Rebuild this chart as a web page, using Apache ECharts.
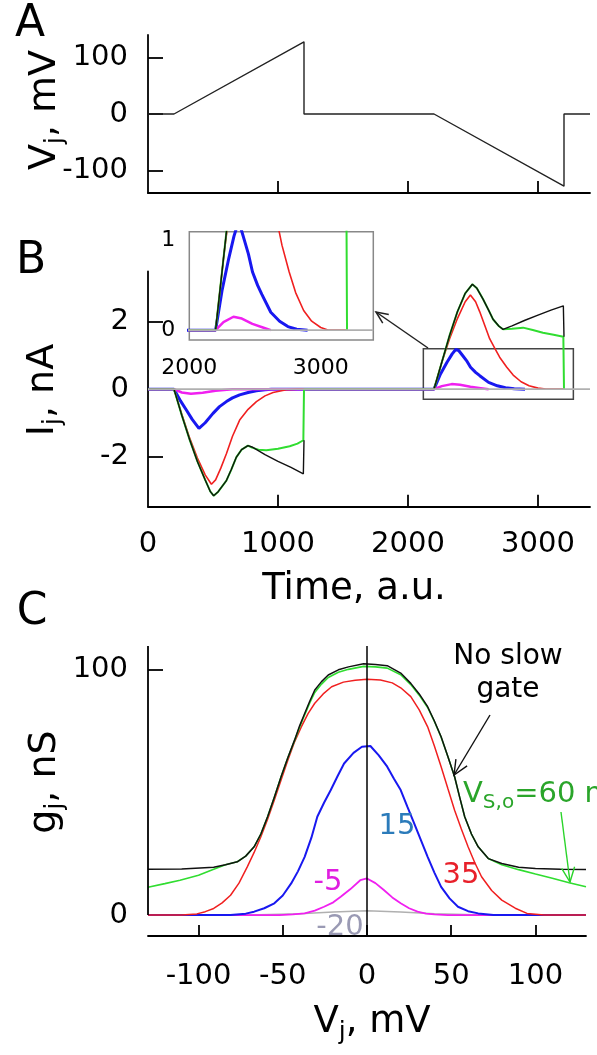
<!DOCTYPE html>
<html>
<head>
<meta charset="utf-8">
<script src="https://cdn.jsdelivr.net/npm/echarts@6.0.0/dist/echarts.min.js"></script>
<style>
html, body { margin: 0; padding: 0; background: #fff; }
#chart { width: 597px; height: 1055px; }
</style>
</head>
<body>
<div id="chart"></div>
<script>
// ---- panel A : Vj protocol (time, mV)
var timeA = [0, 200, 1200, 1200, 2200, 3200, 3200, 3400];
var vjA = [0, 0, 128, 0, 0, -128, 0, 0];

// ---- panel B : Ij traces [time, nA]
var ijBlack = [[0,0],[200,0],[260,-0.78],[320,-1.5],[380,-2.15],[440,-2.7],[480,-3.05],[505,-3.17],[540,-3.05],[603,-2.72],[640,-2.4],[680,-2.02],[720,-1.8],[769,-1.68],[800,-1.72],[900,-1.95],[1000,-2.15],[1100,-2.33],[1195,-2.52],[1200,-1.52],[1200,'-'],
	[2200,0],[2260,0.8],[2320,1.6],[2380,2.3],[2440,2.85],[2495,3.12],[2530,3.0],[2577,2.68],[2620,2.35],[2654,2.08],[2700,1.87],[2731,1.78],[2800,1.88],[2900,2.05],[3000,2.2],[3100,2.35],[3195,2.48],[3200,1.56]];
var ijGreen = [[0,0],[200,0],[260,-0.78],[320,-1.5],[380,-2.15],[440,-2.7],[480,-3.05],[505,-3.17],[540,-3.05],[603,-2.72],[640,-2.4],[680,-2.02],[720,-1.8],[769,-1.68],[800,-1.74],[850,-1.8],[910,-1.82],[1000,-1.77],[1090,-1.7],[1150,-1.62],[1195,-1.52],[1200,0],
	[2200,0],[2260,0.8],[2320,1.6],[2380,2.3],[2440,2.85],[2495,3.12],[2530,3.0],[2577,2.68],[2620,2.35],[2654,2.08],[2700,1.87],[2731,1.78],[2800,1.8],[2885,1.83],[2960,1.76],[3038,1.68],[3120,1.62],[3195,1.56],[3200,0]];
var ijRed = [[0,0],[200,0],[260,-0.75],[320,-1.45],[380,-2.05],[440,-2.55],[488,-2.83],[520,-2.7],[560,-2.35],[603,-1.92],[650,-1.4],[705,-0.92],[770,-0.6],[834,-0.37],[900,-0.2],[962,-0.1],[1064,-0.02],[1150,0],
	[2200,0],[2260,0.8],[2320,1.5],[2380,2.1],[2440,2.6],[2480,2.8],[2520,2.6],[2552,2.3],[2590,1.9],[2628,1.5],[2670,1.2],[2705,0.95],[2760,0.65],[2809,0.42],[2870,0.22],[2931,0.1],[3000,0.03],[3060,0],[3200,0]];
var ijBlue = [[0,0],[200,0],[250,-0.35],[295,-0.62],[340,-0.9],[392,-1.17],[440,-1.0],[500,-0.72],[550,-0.52],[603,-0.37],[650,-0.26],[705,-0.17],[770,-0.1],[834,-0.05],[900,-0.02],[950,0],
	[2200,0],[2250,0.45],[2300,0.8],[2340,1.05],[2367,1.18],[2390,1.15],[2420,1.0],[2450,0.85],[2481,0.65],[2520,0.5],[2552,0.4],[2620,0.2],[2687,0.1],[2750,0.04],[2817,0.01],[2900,0]];
var ijMagenta = [[0,0],[200,0],[260,-0.1],[330,-0.14],[420,-0.11],[520,-0.05],[650,0],
	[2200,0],[2260,0.09],[2336,0.15],[2400,0.13],[2480,0.07],[2560,0.03],[2620,0]];
var ijGray = [[0,0],[3400,0]];
// zoomed region shown in the inset
var zoomBox = [[2118, 1.2], [3272, -0.3]];

// ---- panel C : gj-Vj curves [mV, nS]
var gjBlack = [[-130,18.7],[-110,18.8],[-91,19.5],[-84,20.5],[-77,21.7],[-72,24],[-67,27.8],[-63,33],[-59,40],[-55,48],[-51,56.3],[-47,64],[-43,71.2],[-40,77],[-37,82],[-34,87],[-31,91.6],[-27,95],[-23,97.7],[-17,99.8],[-11,101],[-2,102.3],[5,102],[12,101.5],[20,98.5],[26,94.3],[31,90],[36,84.8],[40,79],[44,72.6],[48,64.5],[52,56.3],[55,48],[58,40],[62,33],[66,27.8],[72,23],[80,21],[90,19.5],[100,19],[115,18.7],[130,18.6]];
var gjGreen = [[-130,11.3],[-120,12.8],[-111,14.2],[-100,16.2],[-91,18.7],[-84,20.5],[-77,21.7],[-72,24],[-67,27.8],[-63,33],[-59,40],[-55,48],[-51,56.3],[-47,64],[-43,71],[-40,76.5],[-37,81.5],[-34,86.3],[-31,90.6],[-27,94],[-23,96.7],[-17,98.8],[-11,100],[-2,101.2],[5,101],[12,100.5],[20,97.8],[26,93.8],[31,89.5],[36,84.5],[40,78.8],[44,72.4],[48,64.5],[52,56.3],[55,48],[58,40],[62,33],[66,27.8],[72,23],[80,20.5],[90,18.5],[100,16.7],[110,15],[120,13.2],[130,11.5]];
var gjRed = [[-130,0],[-110,0],[-101,0.5],[-96,1.4],[-91,2.7],[-86,5],[-81,8.1],[-76,13],[-71,19.7],[-67,25.5],[-63,31.9],[-59,39],[-55,46.8],[-51,55],[-47,63],[-43,70.5],[-39,76.6],[-35,82],[-31,86.2],[-26,90],[-21,92.9],[-14,94.8],[-7,95.6],[0,96],[8,95.7],[15,94.5],[20,92.5],[26,88.9],[31,83.5],[36,76.6],[40,68.8],[44,60.4],[48,51.5],[52,42.7],[56,35],[60,27.8],[64,21.3],[68,15.6],[74,10],[80,6.1],[88,2.8],[95,0.7],[105,0],[130,0]];
var gjBlue = [[-130,0],[-81,0],[-72,0.6],[-67,1.4],[-61,2.8],[-55,4.8],[-50,8],[-45,12.9],[-41,17.8],[-37,23.7],[-33,31.5],[-29.5,40],[-25.5,45.7],[-21.5,50.9],[-17.5,56.5],[-13.6,61.7],[-8,66],[-3,68.5],[2,68.8],[7,65],[12,60.4],[16,55.5],[20,50.9],[24,44],[28,37.3],[32,30.5],[36,23.7],[40,17.3],[44,11.5],[49,6.8],[54,3.4],[60,1.6],[66,0.7],[75,0],[130,0]];
var gjMagenta = [[-130,0],[-52,0],[-44,0.3],[-37,0.7],[-31,1.8],[-25.5,3.4],[-20,5.2],[-15.6,7.5],[-10,10.5],[-4,14.2],[0,14.9],[5,13],[10,10.2],[15,7.2],[20,4.8],[25,2.8],[30,1.4],[35,0.6],[40,0.3],[48,0],[130,0]];
var gjGray = [[-130,0],[-70,0],[-40,0.6],[-20,1.3],[0,1.8],[20,1.3],[40,0.6],[70,0],[130,0]];
var gjAxisLine = [[-130,0],[-130,109.5]];

// ---- ticks and labels
var timeTicks = [1000, 2000, 3000];
var timeLabels = [0, 1000, 2000, 3000];
var vjTicks = [-100, 0, 100];
var ijTicks = [-2, 0, 2];
var insetXTicks = [3000];
var insetXLabels = [2000, 3000];
var insetYTicks = [0, 1];
var vTicks = [-100, -50, 0, 50, 100];
var gTicks = [0, 100];

var FONT = 'DejaVu Sans';
var C_GREEN = '#30dd30', C_RED = '#f02020', C_BLUE = '#1818f0', C_MAG = '#f020f0', C_GRAY = '#b0b0b0', C_BLACK = '#111';

function valueAxis(o) {
	return {
		type: 'value',
		gridIndex: o.grid,
		min: o.min,
		max: o.max,
		axisLine: { show: o.line !== false, onZero: false, lineStyle: { color: '#000', width: 1.8 } },
		axisTick: { show: true, inside: true, length: o.tickLen || 12, customValues: o.ticks, lineStyle: { color: o.tickColor || '#000', width: 1.8 } },
		axisLabel: {
			show: !!o.labels,
			customValues: o.labels || [],
			margin: o.margin || 18,
			fontSize: o.fontSize || 29,
			fontFamily: FONT,
			color: '#000',
			formatter: function (v) { return String(v); }
		},
		splitLine: { show: false }
	};
}

function line(data, color, width, idx, z) {
	return {
		type: 'line',
		data: data,
		xAxisIndex: idx,
		yAxisIndex: idx,
		symbol: 'none',
		silent: true,
		z: z || 2,
		lineStyle: { color: color, width: width },
		itemStyle: { color: color }
	};
}

function arrow(x1, y1, x2, y2, color, head, width) {
	var a = Math.atan2(y2 - y1, x2 - x1), s = 0.42;
	var p1 = [x2 - head * Math.cos(a - s), y2 - head * Math.sin(a - s)];
	var p2 = [x2 - head * Math.cos(a + s), y2 - head * Math.sin(a + s)];
	return [
		{ type: 'line', z: 100, shape: { x1: x1, y1: y1, x2: x2, y2: y2 }, style: { stroke: color, lineWidth: width } },
		{ type: 'polyline', z: 100, shape: { points: [p1, [x2, y2], p2] }, style: { stroke: color, lineWidth: width, fill: null } }
	];
}

function label(x, y, text, size, color, align, rot) {
	return {
		type: 'text', z: 100, x: x, y: y, rotation: rot || 0,
		style: { text: text, fontSize: size, fontFamily: FONT, fill: color, align: align || 'center', verticalAlign: 'middle' }
	};
}

// text with a subscript, e.g. V_j, mV
function subLabel(x, y, main, sub, rest, size, subSize, color, align, rot) {
	return {
		type: 'text', z: 100, x: x, y: y, rotation: rot || 0,
		style: {
			text: '{m|' + main + '}{s|' + sub + '}{m|' + rest + '}',
			align: align || 'center',
			verticalAlign: 'middle',
			fill: color,
			rich: {
				m: { fontSize: size, fontFamily: FONT, fill: color, lineHeight: size + 8 },
				s: { fontSize: subSize, fontFamily: FONT, fill: color, lineHeight: 14, verticalAlign: 'bottom' }
			}
		}
	};
}

var series = [];

// A
series.push(line(timeA.map(function (t, i) { return [t, vjA[i]]; }), '#222', 1.4, 0));

// B main (1) and inset (2)
[1, 2].forEach(function (k) {
	series.push(line(ijBlue, C_BLUE, 3, k));
	series.push(line(ijMagenta, C_MAG, 2.5, k));
	series.push(line(ijRed, C_RED, 1.6, k));
	series.push(line(ijGreen, C_GREEN, 2, k));
	series.push(line(ijBlack, C_BLACK, 1.4, k));
	series.push(line(ijGray, C_GRAY, 1.8, k));
});

// zoom rectangle on the main B panel
series[series.length - 7].markArea = {
	silent: true,
	itemStyle: { color: 'rgba(0,0,0,0)', borderColor: '#444', borderWidth: 1.5 },
	data: [[{ coord: zoomBox[0] }, { coord: zoomBox[1] }]]
};

// C
series.push(line(gjGray, C_GRAY, 1.5, 3));
series.push(line(gjMagenta, C_MAG, 1.8, 3));
series.push(line(gjBlue, C_BLUE, 2, 3));
series.push(line(gjRed, C_RED, 1.5, 3));
series.push(line(gjGreen, C_GREEN, 1.6, 3));
series.push(line(gjBlack, C_BLACK, 1.5, 3));

var axisSerie = line(gjAxisLine, '#000', 1.8, 3, 5);
axisSerie.clip = false;
axisSerie.markLine = {
	silent: true,
	symbol: 'none',
	label: { show: false },
	lineStyle: { color: '#000', width: 1.5, type: 'solid' },
	data: [{ xAxis: 0 }]
};
series.push(axisSerie);

var graphics = [
	label(30, 25, 'A', 44, '#000'),
	label(31, 262, 'B', 44, '#000'),
	label(32, 613, 'C', 44, '#000'),
	subLabel(45, 110, 'V', 'j', ', mV', 38, 25, '#000', 'center', Math.PI / 2),
	subLabel(43, 390, 'I', 'j', ', nA', 38, 25, '#000', 'center', Math.PI / 2),
	subLabel(45, 782, 'g', 'j', ', nS', 38, 25, '#000', 'center', Math.PI / 2),
	label(354, 589, 'Time, a.u.', 37, '#000'),
	subLabel(372, 1022, 'V', 'j', ', mV', 37, 25, '#000'),
	{
		type: 'text', z: 100, x: 508, y: 673,
		style: { text: 'No slow\ngate', fontSize: 28, fontFamily: FONT, fill: '#000', align: 'center', verticalAlign: 'middle', lineHeight: 33 }
	},
	subLabel(463, 794, 'V', 'S,o', '=60 mV', 29, 20, '#2aa52a', 'left'),
	label(397, 826, '15', 29, '#2b7bba'),
	label(461, 875, '35', 29, '#e8202a'),
	label(328, 882, '-5', 29, '#e01ee0'),
	label(340, 927, '-20', 29, '#9a9ab4')
];
graphics = graphics.concat(arrow(428, 348, 376, 312, '#222', 13, 1.5));
graphics = graphics.concat(arrow(490, 715, 454, 775, '#111', 16, 1.4));
graphics = graphics.concat(arrow(561, 812, 570, 882, '#2ad42a', 16, 1.4));

var option = {
	animation: false,
	backgroundColor: '#fff',
	textStyle: { fontFamily: FONT },
	grid: [
		{ left: 148, top: 35, width: 442, height: 158, containLabel: false, outerBoundsMode: 'none' },
		{ left: 148, top: 271.5, width: 442, height: 235.3, containLabel: false, outerBoundsMode: 'none' },
		{ left: 189.3, top: 231.7, width: 184, height: 108.3, containLabel: false, outerBoundsMode: 'none', show: true, borderColor: '#888', borderWidth: 1.5, backgroundColor: '#fff', z: 1 },
		{ left: 148, top: 646, width: 438, height: 290, containLabel: false, outerBoundsMode: 'none' }
	],
	xAxis: [
		valueAxis({ grid: 0, min: 0, max: 3400, ticks: timeTicks, tickLen: 12 }),
		valueAxis({ grid: 1, min: 0, max: 3400, ticks: timeTicks, labels: timeLabels, tickLen: 12, margin: 23 }),
		valueAxis({ grid: 2, min: 2000, max: 3400, line: false, ticks: insetXTicks, labels: insetXLabels, tickLen: 8, tickColor: '#555', margin: 17, fontSize: 22 }),
		valueAxis({ grid: 3, min: -130, max: 130, ticks: vTicks, labels: vTicks, tickLen: 11, margin: 26 })
	],
	yAxis: [
		valueAxis({ grid: 0, min: -140, max: 140, ticks: vjTicks, labels: vjTicks, tickLen: 15, margin: 20 }),
		valueAxis({ grid: 1, min: -3.5, max: 3.5, ticks: ijTicks, labels: ijTicks, tickLen: 15, margin: 19 }),
		valueAxis({ grid: 2, min: -0.11, max: 1.1, line: false, ticks: insetYTicks, labels: insetYTicks, tickLen: 12, tickColor: '#444', margin: 14, fontSize: 22 }),
		valueAxis({ grid: 3, min: -8.5, max: 109.5, line: false, ticks: gTicks, labels: gTicks, tickLen: 15, margin: 20 })
	],
	series: series,
	graphic: graphics
};

var myChart = echarts.init(document.getElementById('chart'), null, { renderer: 'canvas', width: 597, height: 1055 });
myChart.setOption(option);
</script>
</body>
</html>
